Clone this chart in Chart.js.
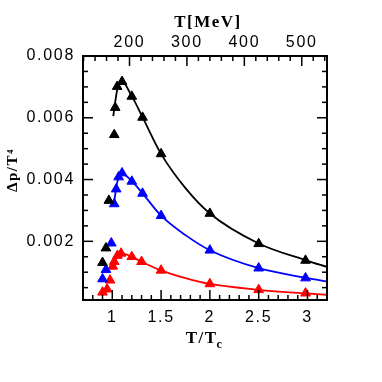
<!DOCTYPE html>
<html><head><meta charset="utf-8">
<script src="https://cdn.jsdelivr.net/npm/chart.js@4.4.1/dist/chart.umd.min.js"></script>
<style>html,body{margin:0;padding:0;background:#fff}#wrap{width:382px;height:382px}</style>
</head><body><div id="wrap"><canvas id="c" width="382" height="382"></canvas></div>
<script>
const TC_MEV = 170;
const X_RANGE = [0.7, 3.2];
const Y_RANGE = [0.0001, 0.008];
const X_TICK_LABELS = [1, 1.5, 2, 2.5, 3];
const Y_TICK_LABELS = [0.002, 0.004, 0.006, 0.008];
const TOP_TICK_LABELS = [200, 300, 400, 500];
const X_TITLE = 'T/T', X_TITLE_SUB = 'c';
const TOP_TITLE = 'T[MeV]';
const Y_TITLE = 'Δp/T⁴';

const blackPtsX = [0.90, 0.935, 0.965, 1.02, 1.03, 1.05, 1.10, 1.20, 1.31, 1.50, 2.00, 2.50, 2.98];
const blackPtsY = [0.00131, 0.00178, 0.00332, 0.00545, 0.00633, 0.00701, 0.00717, 0.00669, 0.00601, 0.00483, 0.00290, 0.00192, 0.00138];
const blackFitX = [1.01, 1.05, 1.09, 1.20, 1.31, 1.50, 1.75, 2.00, 2.50, 3.00, 3.20];
const blackFitY = [0.00605, 0.0069, 0.0072, 0.0067, 0.00602, 0.00483, 0.00372, 0.0029, 0.00193, 0.00137, 0.00117];

const bluePtsX = [0.90, 0.935, 0.99, 1.02, 1.04, 1.065, 1.10, 1.20, 1.31, 1.50, 2.00, 2.50, 2.98];
const bluePtsY = [0.00078, 0.00108, 0.00194, 0.00321, 0.00369, 0.00408, 0.00421, 0.00394, 0.00355, 0.00283, 0.00171, 0.00113, 0.00081];
const blueFitX = [1.02, 1.05, 1.09, 1.20, 1.31, 1.50, 1.75, 2.00, 2.50, 3.00, 3.20];
const blueFitY = [0.0033, 0.0039, 0.0042, 0.00395, 0.00355, 0.00283, 0.0022, 0.00171, 0.00113, 0.00081, 0.0007];

const redPtsX = [0.90, 0.947, 0.977, 1.005, 1.02, 1.053, 1.09, 1.20, 1.30, 1.50, 2.00, 2.50, 2.98];
const redPtsY = [0.00035, 0.00045, 0.00074, 0.00119, 0.00134, 0.00154, 0.00161, 0.0015, 0.00134, 0.00106, 0.00062, 0.00043, 0.00032];
const redFitX = [1.00, 1.05, 1.10, 1.20, 1.30, 1.50, 1.75, 2.00, 2.50, 3.00, 3.20];
const redFitY = [0.0011, 0.0015, 0.0016, 0.0015, 0.00134, 0.00106, 0.00081, 0.00062, 0.00043, 0.00031, 0.00027];

const zip = (xs, ys) => xs.map((x, i) => ({x, y: ys[i]}));
const pts = (label, xs, ys, color) => ({
  label, data: zip(xs, ys), showLine: false, pointStyle: 'triangle', pointRadius: 5.6,
  backgroundColor: color, borderColor: color, borderWidth: 1, clip: false
});
const fit = (label, xs, ys, color) => ({
  label, data: zip(xs, ys), showLine: true, pointRadius: 0, borderColor: color,
  borderWidth: 1.8, cubicInterpolationMode: 'monotone', fill: false
});

const tickFont = {family: 'Liberation Sans, Arial, sans-serif', size: 16};
const baseScale = {
  grid: {display: false, drawTicks: false}, border: {display: false}
};

const frameAndTicks = {
  id: 'frameAndTicks',
  beforeDraw(chart) { chart.ctx.letterSpacing = '1.7px'; },
  afterDatasetsDraw(chart) {
    const {ctx, chartArea: a, scales} = chart;
    ctx.save();
    ctx.strokeStyle = '#000';
    ctx.lineWidth = 1.5;
    const line = (x1, y1, x2, y2) => { ctx.beginPath(); ctx.moveTo(x1, y1); ctx.lineTo(x2, y2); ctx.stroke(); };
    for (let i = 8; i <= 32; i++) {
      const px = scales.x.getPixelForValue(i / 10);
      const L = i % 5 === 0 ? 10 : 5;
      line(px, a.bottom, px, a.bottom - L);
    }
    for (let m = 120; m <= 540; m += 20) {
      const px = scales.x2.getPixelForValue(m);
      const L = m % 100 === 0 ? 10 : 5;
      line(px, a.top, px, a.top + L);
    }
    for (let i = 1; i <= 15; i++) {
      const py = scales.y.getPixelForValue(i * 0.0005);
      const L = i % 4 === 0 ? 10 : 5;
      line(a.left, py, a.left + L, py);
      line(a.right, py, a.right - L, py);
    }
    ctx.lineWidth = 2;
    ctx.strokeRect(a.left, a.top, a.right - a.left, a.bottom - a.top);
    ctx.restore();
  },
  afterDraw(chart) {
    const {ctx, chartArea: a} = chart;
    ctx.save();
    ctx.fillStyle = '#000';
    ctx.letterSpacing = '1.5px';
    const serif = 'bold 17px "Liberation Serif", "Times New Roman", serif';
    ctx.font = serif; ctx.textAlign = 'center'; ctx.textBaseline = 'alphabetic';
    ctx.fillText(TOP_TITLE, 208, 27);
    ctx.textAlign = 'left';
    const w = ctx.measureText(X_TITLE).width;
    const subFont = 'bold 12px "Liberation Serif", "Times New Roman", serif';
    ctx.font = subFont;
    const ws = ctx.measureText(X_TITLE_SUB).width;
    const x0 = (a.left + a.right) / 2 - (w + ws) / 2;
    ctx.font = serif;
    ctx.fillText(X_TITLE, x0, 343);
    ctx.font = subFont;
    ctx.fillText(X_TITLE_SUB, x0 + w - 1, 348);
    ctx.translate(13, 170);
    ctx.rotate(-Math.PI / 2);
    ctx.font = 'bold 15px "Liberation Serif", "Times New Roman", serif';
    ctx.textAlign = 'center'; ctx.textBaseline = 'middle';
    ctx.fillText(Y_TITLE, 0, 0);
    ctx.restore();
  }
};

new Chart(document.getElementById('c'), {
  type: 'scatter',
  data: {
    datasets: [
      pts('black data', blackPtsX, blackPtsY, '#000000'),
      pts('blue data', bluePtsX, bluePtsY, '#0000ff'),
      pts('red data', redPtsX, redPtsY, '#ff0000'),
      fit('black fit', blackFitX, blackFitY, '#000000'),
      fit('blue fit', blueFitX, blueFitY, '#0000ff'),
      fit('red fit', redFitX, redFitY, '#ff0000')
    ]
  },
  options: {
    responsive: false, animation: false, devicePixelRatio: 1,
    layout: {padding: 0},
    plugins: {legend: {display: false}, tooltip: {enabled: false}, title: {display: false}},
    scales: {
      x: {
        ...baseScale, type: 'linear', position: 'bottom', min: X_RANGE[0], max: X_RANGE[1],
        afterBuildTicks: s => { s.ticks = X_TICK_LABELS.map(v => ({value: v})); },
        afterFit: s => { s.height = 82; },
        ticks: {color: '#000', font: tickFont, padding: 8, maxRotation: 0, autoSkip: false, callback: v => String(v)}
      },
      x2: {
        ...baseScale, type: 'linear', position: 'top', min: X_RANGE[0] * TC_MEV, max: X_RANGE[1] * TC_MEV,
        afterBuildTicks: s => { s.ticks = TOP_TICK_LABELS.map(v => ({value: v})); },
        afterFit: s => { s.height = 56; },
        ticks: {color: '#000', font: tickFont, padding: 4, maxRotation: 0, autoSkip: false, callback: v => String(v)}
      },
      y: {
        ...baseScale, type: 'linear', position: 'left', min: Y_RANGE[0], max: Y_RANGE[1],
        afterBuildTicks: s => { s.ticks = Y_TICK_LABELS.map(v => ({value: v})); },
        afterFit: s => { s.width = 83; },
        ticks: {color: '#000', font: tickFont, padding: 8, autoSkip: false, callback: v => v.toFixed(3)}
      },
      y2: {
        ...baseScale, type: 'linear', position: 'right', min: Y_RANGE[0], max: Y_RANGE[1],
        afterFit: s => { s.width = 55; },
        ticks: {display: false}
      }
    }
  },
  plugins: [frameAndTicks]
});
</script>
</body></html>
